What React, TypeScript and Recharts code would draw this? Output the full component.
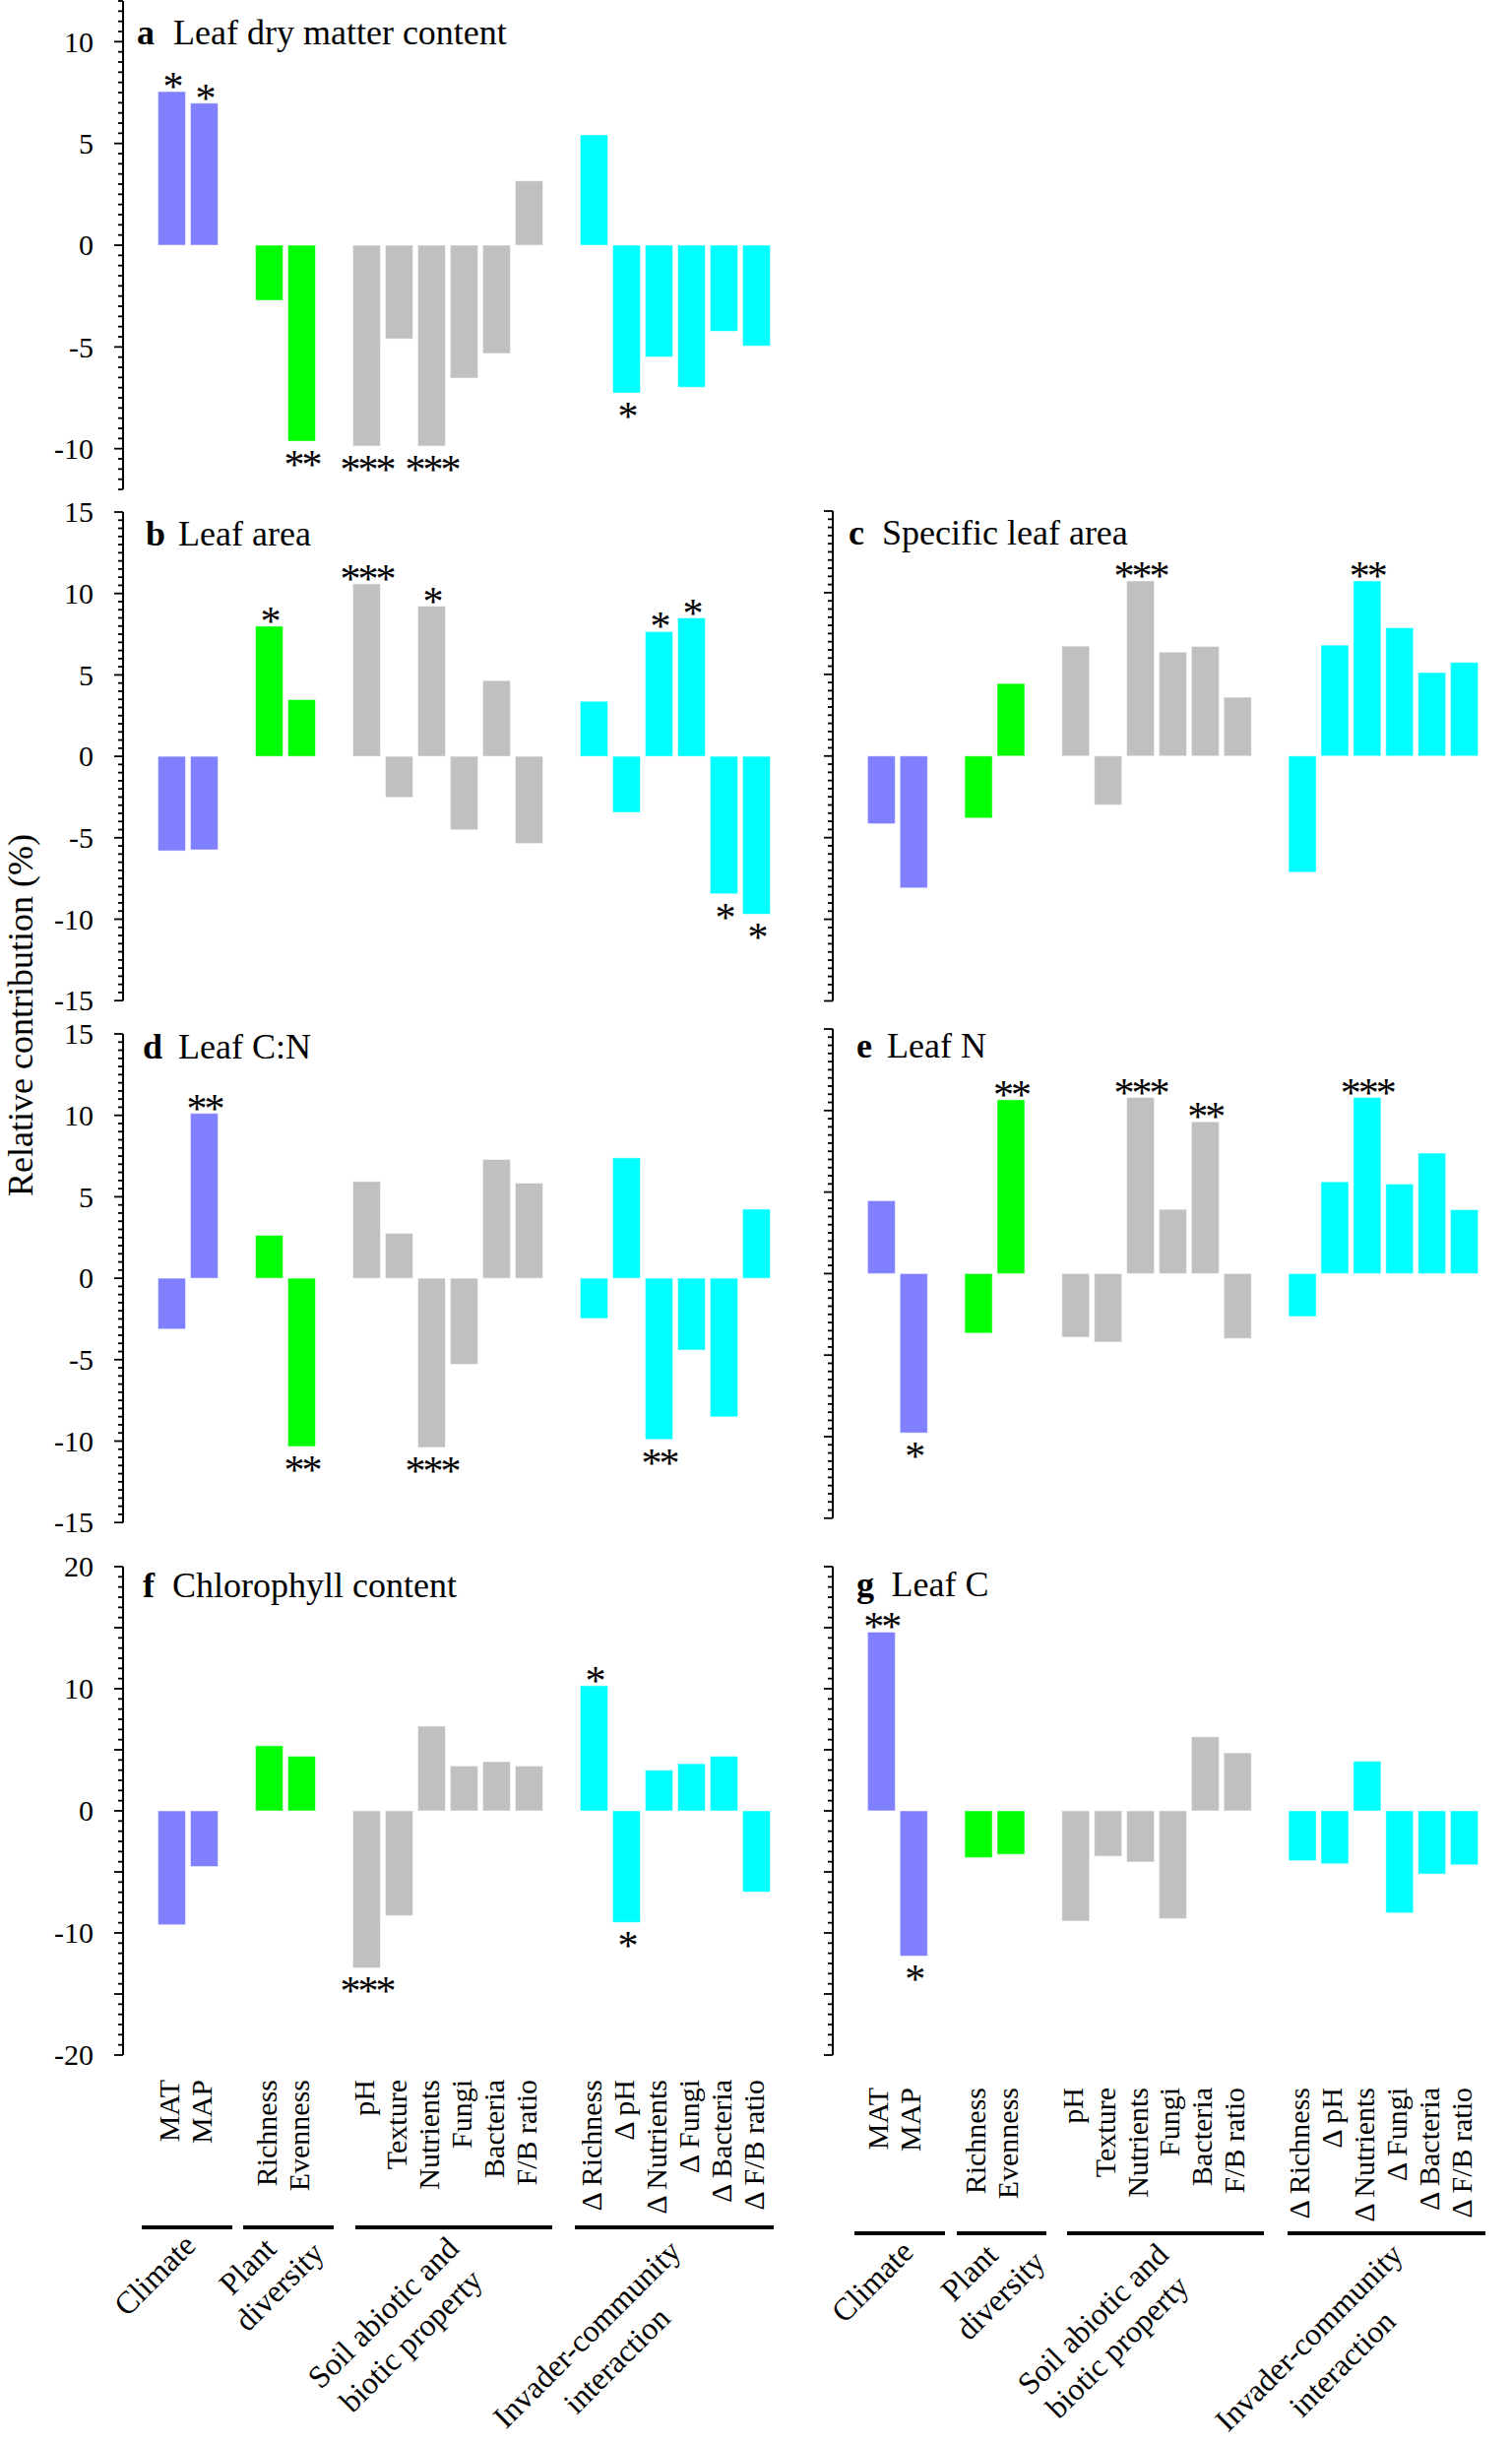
import React from 'react';
import { BarChart, Bar, XAxis, YAxis } from 'recharts';

const FONT = "'Liberation Serif', 'Times New Roman', Times, serif";

// ---------- data ----------
const variables = ['MAT', 'MAP', 'Richness', 'Evenness', 'pH', 'Texture', 'Nutrients', 'Fungi', 'Bacteria', 'F/B ratio',
  'Δ Richness', 'Δ pH', 'Δ Nutrients', 'Δ Fungi', 'Δ Bacteria', 'Δ F/B ratio'];
const variableGroup = [0, 0, 1, 1, 2, 2, 2, 2, 2, 2, 3, 3, 3, 3, 3, 3];
const groupNames = [['Climate'], ['Plant', 'diversity'], ['Soil abiotic and', 'biotic property'], ['Invader-community', 'interaction']];
const groupColors = ['#8080ff', '#00ff00', '#c0c0c0', '#00ffff'];

const ldmcValues = [7.55, 6.98, -2.71, -9.63, -9.87, -4.6, -9.87, -6.53, -5.32, 3.16, 5.42, -7.26, -5.49, -6.98, -4.23, -4.95];
const ldmcSig = ['*', '*', '', '**', '***', '', '***', '', '', '', '', '*', '', '', '', ''];

const leafAreaValues = [-5.8, -5.74, 7.99, 3.48, 10.59, -2.52, 9.22, -4.51, 4.65, -5.35, 3.38, -3.44, 7.66, 8.5, -8.44, -9.69];
const leafAreaSig = ['', '', '*', '', '***', '', '*', '', '', '', '', '', '*', '*', '*', '*'];

const slaValues = [-4.15, -8.08, -3.8, 4.44, 6.73, -2.99, 10.72, 6.36, 6.71, 3.6, -7.12, 6.79, 10.72, 7.85, 5.11, 5.73];
const slaSig = ['', '', '', '', '', '', '***', '', '', '', '', '', '**', '', '', ''];

const cnValues = [-3.12, 10.12, 2.63, -10.33, 5.94, 2.76, -10.39, -5.29, 7.29, 5.84, -2.47, 7.39, -9.9, -4.41, -8.51, 4.24];
const cnSig = ['', '**', '', '**', '', '', '***', '', '', '', '', '', '**', '', '', ''];

const leafNValues = [4.47, -9.77, -3.65, 10.66, -3.9, -4.2, 10.8, 3.94, 9.31, -3.98, -2.63, 5.63, 10.8, 5.49, 7.39, 3.92];
const leafNSig = ['', '*', '', '**', '', '', '***', '', '**', '', '', '', '***', '', '', ''];

const chlValues = [-9.33, -4.56, 5.33, 4.47, -12.86, -8.58, 6.94, 3.67, 4.03, 3.67, 10.25, -9.14, 3.33, 3.86, 4.47, -6.64];
const chlSig = ['', '', '', '', '***', '', '', '', '', '', '*', '*', '', '', '', ''];

const leafCValues = [14.64, -11.89, -3.83, -3.56, -9.03, -3.72, -4.19, -8.83, 6.06, 4.75, -4.08, -4.33, 4.06, -8.36, -5.17, -4.42];
const leafCSig = ['**', '*', '', '', '', '', '', '', '', '', '', '', '', '', '', ''];

const ticks15 = [-15, -10, -5, 0, 5, 10, 15];
const ticks12 = [-10, -5, 0, 5, 10];
const ticks20 = [-20, -10, 0, 10, 20];

// ---------- helpers ----------
const SLOT_COUNT = 20;
function buildRows(values: number[], sig: string[]) {
  const rows: any[] = [];
  for (let s = 0; s < SLOT_COUNT; s++) rows.push({ slot: s, value: null, sig: '', group: -1, name: '' });
  variables.forEach((name, i) => {
    const s = i + 1 + variableGroup[i];
    rows[s] = { slot: s, value: values[i], sig: sig[i], group: variableGroup[i], name };
  });
  return rows;
}
const slotLabels: string[] = (() => {
  const arr = new Array(SLOT_COUNT).fill('');
  variables.forEach((n, i) => { arr[i + 1 + variableGroup[i]] = n; });
  return arr;
})();

function axisTicks(domain: number[], major: number, perMajor: number) {
  const step = major / perMajor;
  const out: number[] = [];
  const kMin = Math.round(domain[0] / step), kMax = Math.round(domain[1] / step);
  for (let k = kMin; k <= kMax; k++) out.push(+(k * step).toFixed(6));
  return out;
}

const SIG_SIZE = 42;

const BarShape = (props: any) => {
  const { x, y, width, height, payload } = props;
  if (!payload || payload.group < 0 || payload.value == null) return null;
  const top = Math.min(y, y + height);
  const bot = Math.max(y, y + height);
  return (
    <g>
      <rect x={x} y={top} width={width} height={bot - top} fill={groupColors[payload.group]}
        stroke="#ffffff" strokeOpacity={0.5} strokeWidth={1} />
      {payload.sig ? (
        <text x={x + width / 2} y={payload.value >= 0 ? top + 9 : bot + 38} textAnchor="middle"
          fontSize={SIG_SIZE} fontFamily={FONT} fill="#000" letterSpacing={-3}>{payload.sig}</text>
      ) : null}
    </g>
  );
};

const makeYTick = (labels: number[], major: number) => (props: any) => {
  const { x, y, payload } = props;
  const v = Number(payload.value);
  const isMajor = Math.abs(v / major - Math.round(v / major)) < 1e-6;
  const isLabel = labels.some((l) => Math.abs(l - v) < 1e-6);
  return (
    <g>
      <line x1={x - (isMajor ? 9 : 5)} x2={x} y1={y} y2={y} stroke="#000" strokeWidth={1.8} />
      {isLabel ? (
        <text x={x - 30} y={y} dy="0.34em" textAnchor="end" fontSize={30} fontFamily={FONT} fill="#000">
          {String(Math.round(v))}
        </text>
      ) : null}
    </g>
  );
};

const makeXTick = (offset: number) => (props: any) => {
  const { x, y, payload } = props;
  const label = slotLabels[Number(payload.value)] || '';
  if (!label) return <g />;
  const tx = x + 7;
  const ty = y + offset;
  return (
    <text x={tx} y={ty} transform={`rotate(-90 ${tx} ${ty})`} textAnchor="end" fontSize={30}
      fontFamily={FONT} fill="#000">{label}</text>
  );
};

// ---------- panels ----------
type Panel = {
  id: string; title: string; values: number[]; sig: string[]; side: 'left' | 'right';
  top: number; bottom: number; domain: number[]; labels: number[]; major: number; perMajor: number;
  tx: number; ttx: number; ty: number; xLabels: boolean; xOffset: number;
};

const panels: Panel[] = [
  { id: 'a', title: 'Leaf dry matter content', values: ldmcValues, sig: ldmcSig, side: 'left', top: 1.3, bottom: 497.3, domain: [-12, 12], labels: ticks12, major: 5, perMajor: 10, tx: 139, ttx: 176, ty: 45, xLabels: false, xOffset: 0 },
  { id: 'b', title: 'Leaf area', values: leafAreaValues, sig: leafAreaSig, side: 'left', top: 520.3, bottom: 1016.5, domain: [-15, 15], labels: ticks15, major: 5, perMajor: 10, tx: 148, ttx: 181, ty: 554, xLabels: false, xOffset: 0 },
  { id: 'c', title: 'Specific leaf area', values: slaValues, sig: slaSig, side: 'right', top: 519, bottom: 1016.5, domain: [-15, 15], labels: [], major: 5, perMajor: 10, tx: 862, ttx: 896, ty: 553, xLabels: false, xOffset: 0 },
  { id: 'd', title: 'Leaf C:N', values: cnValues, sig: cnSig, side: 'left', top: 1050.3, bottom: 1546.5, domain: [-15, 15], labels: ticks15, major: 5, perMajor: 10, tx: 145, ttx: 181, ty: 1074.6, xLabels: false, xOffset: 0 },
  { id: 'e', title: 'Leaf N', values: leafNValues, sig: leafNSig, side: 'right', top: 1045.2, bottom: 1542, domain: [-15, 15], labels: [], major: 5, perMajor: 10, tx: 870, ttx: 901, ty: 1074, xLabels: false, xOffset: 0 },
  { id: 'f', title: 'Chlorophyll content', values: chlValues, sig: chlSig, side: 'left', top: 1591, bottom: 2087, domain: [-20, 20], labels: ticks20, major: 5, perMajor: 6, tx: 145, ttx: 175, ty: 1622, xLabels: true, xOffset: 25 },
  { id: 'g', title: 'Leaf C', values: leafCValues, sig: leafCSig, side: 'right', top: 1591, bottom: 2087, domain: [-20, 20], labels: [], major: 5, perMajor: 6, tx: 870, ttx: 905.6, ty: 1621, xLabels: true, xOffset: 33 },
];

const underlines = {
  left: { y: 2262, segs: [[144, 236], [247, 339], [361, 561], [584, 786]] },
  right: { y: 2268, segs: [[868, 960], [972, 1063], [1084, 1284], [1308, 1509]] },
};
const groupLabelPos = {
  left: [[[156.9, 2310]], [[251, 2301], [283.3, 2321.7]], [[388.9, 2348.4], [416.9, 2376.7]], [[595.7, 2370], [626.2, 2396.7]]],
  right: [[[885.7, 2316.7]], [[984.3, 2307.5], [1015.9, 2330.8]], [[1109.8, 2354.9], [1134.4, 2383]], [[1329.3, 2373.3], [1363.3, 2399.9]]],
};

function PanelChart({ p }: { p: Panel }) {
  const rows = buildRows(p.values, p.sig);
  const mt = 20;
  const xh = p.xLabels ? 180 : 0;
  const mb = p.xLabels ? 5 : 20;
  const plotH = p.bottom - p.top;
  const height = mt + plotH + xh + mb;
  const left = p.side === 'left' ? 0 : 721;
  const mr = p.side === 'left' ? 15 : 17;
  return (
    <div style={{ position: 'absolute', left, top: p.top - mt, width: 800, height }}>
      <BarChart width={800} height={height} data={rows} margin={{ top: mt, right: mr, bottom: mb, left: 0 }}
        barCategoryGap="7.5%">
        {p.xLabels ? (
          <XAxis dataKey="slot" type="category" axisLine={false} tickLine={false} tickSize={0} tickMargin={0}
            interval={0} height={xh} tick={makeXTick(p.xOffset)} />
        ) : (
          <XAxis dataKey="slot" type="category" hide />
        )}
        <YAxis type="number" domain={p.domain} allowDataOverflow width={125}
          ticks={axisTicks(p.domain, p.major, p.perMajor)} interval={0}
          axisLine={{ stroke: '#000', strokeWidth: 2 }} tickLine={false} tickSize={0} tickMargin={0}
          tick={makeYTick(p.labels, p.major)} />
        <Bar dataKey="value" isAnimationActive={false} shape={<BarShape />} />
      </BarChart>
    </div>
  );
}

function Overlay() {
  return (
    <svg width={1536} height={2482} style={{ position: 'absolute', left: 0, top: 0, pointerEvents: 'none' }}>
      {panels.map((p) => (
        <g key={p.id} fontFamily={FONT} fontSize={36} fill="#000">
          <text x={p.tx} y={p.ty} fontWeight="bold">{p.id}</text>
          <text x={p.ttx} y={p.ty}>{p.title}</text>
        </g>
      ))}
      <text x={33} y={1031} transform="rotate(-90 33 1031)" textAnchor="middle" fontSize={36} fontFamily={FONT} fill="#000">
        Relative contribution (%)
      </text>
      {(['left', 'right'] as const).map((side) => (
        <g key={side}>
          {underlines[side].segs.map((s, i) => (
            <line key={i} x1={s[0]} x2={s[1]} y1={underlines[side].y} y2={underlines[side].y} stroke="#000" strokeWidth={4} />
          ))}
          {groupLabelPos[side].map((lines, gi) => lines.map((pt, li) => (
            <text key={`${gi}-${li}`} x={pt[0]} y={pt[1]} dy="0.35em" textAnchor="middle"
              transform={`rotate(-45 ${pt[0]} ${pt[1]})`} fontSize={32} fontFamily={FONT} fill="#000">
              {groupNames[gi][li]}
            </text>
          )))}
        </g>
      ))}
    </svg>
  );
}

export default function App() {
  return (
    <div style={{ position: 'absolute', left: 0, top: 0, width: 1536, height: 2482, background: '#fff', overflow: 'hidden' }}>
      {panels.map((p) => <PanelChart key={p.id} p={p} />)}
      <Overlay />
    </div>
  );
}
